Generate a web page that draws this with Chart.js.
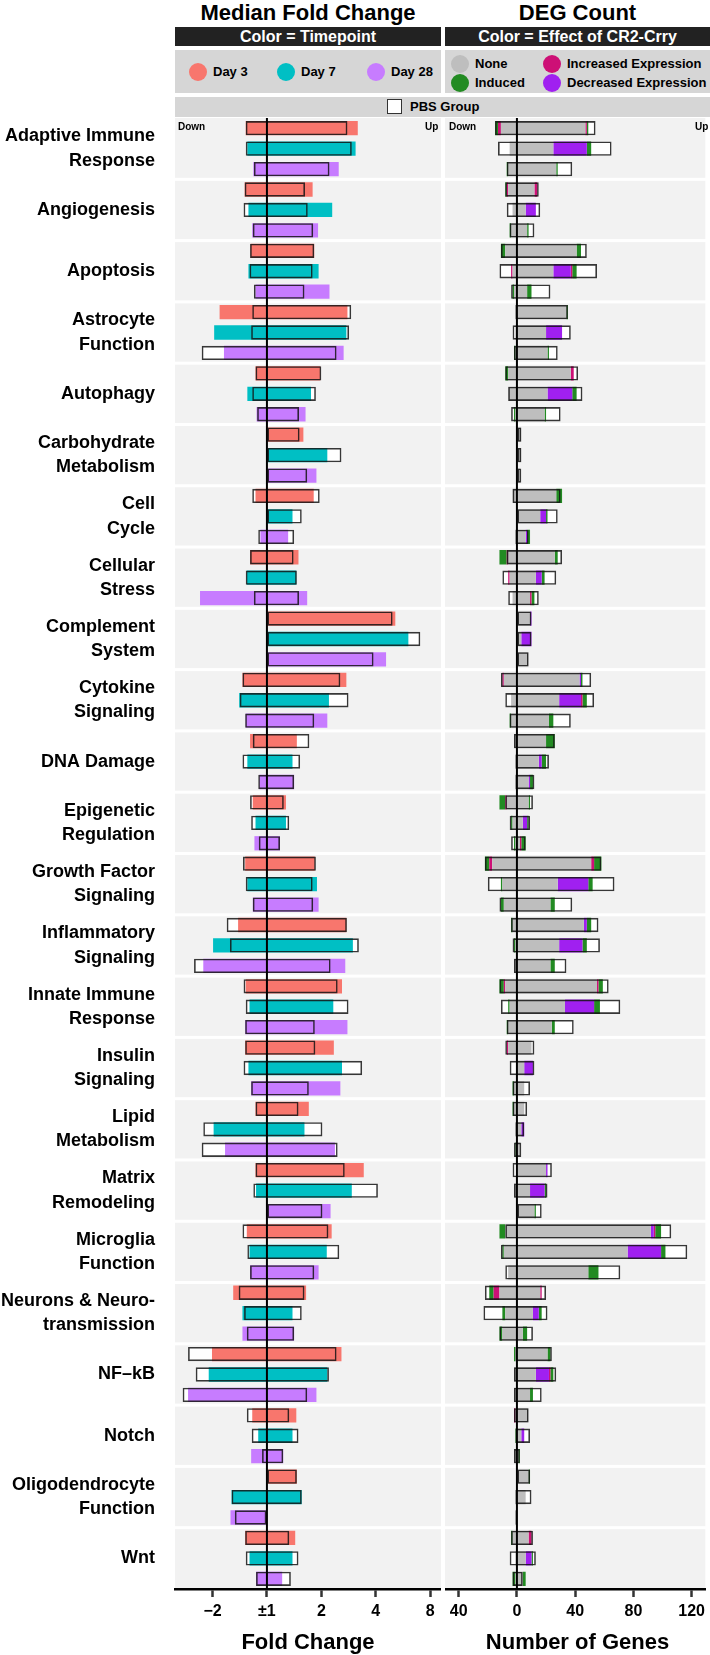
<!DOCTYPE html>
<html>
<head>
<meta charset="utf-8">
<script src="https://cdn.jsdelivr.net/npm/chart.js@4.4.1/dist/chart.umd.min.js"></script>
<style>
  body { margin: 0; background: #fff; }
  #page { position: relative; width: 710px; height: 1655px; overflow: hidden;
          font-family: "Liberation Sans", Arial, sans-serif; font-weight: bold; color: #000; }
  .abs { position: absolute; white-space: nowrap; }
  .title { top: 1px; height: 24px; line-height: 24px; font-size: 22px; text-align: center; }
  .strip { top: 27px; height: 19px; line-height: 19px; background: #222; color: #fff; font-size: 16px; text-align: center; }
  .legbox { top: 50px; height: 43px; background: #D6D6D6; }
  .dot { width: 18px; height: 18px; border-radius: 50%; }
  .leg { font-size: 13px; line-height: 18px; }
  .small { font-size: 10px; line-height: 12px; z-index: 2; }
  .axtitle { top: 1629px; height: 26px; line-height: 26px; font-size: 22px; text-align: center; }
  canvas { position: absolute; top: 0; }
</style>
</head>
<body>
<div id="page">
  <div class="abs title" style="left:175px;width:266px;">Median Fold Change</div>
  <div class="abs title" style="left:445px;width:265px;">DEG Count</div>

  <div class="abs strip" style="left:175px;width:266px;">Color = Timepoint</div>
  <div class="abs strip" style="left:445px;width:265px;">Color = Effect of CR2-Crry</div>

  <div class="abs legbox" style="left:175px;width:266px;"></div>
  <div class="abs legbox" style="left:445px;width:265px;"></div>
  <div id="legendLeft"></div>
  <div id="legendRight"></div>

  <div class="abs" style="left:175px;top:97px;width:535px;height:20px;background:#D6D6D6;"></div>
  <div class="abs" style="left:387px;top:99px;width:13px;height:13px;background:#fff;border:1.5px solid #333;"></div>
  <div class="abs leg" style="left:410px;top:97px;line-height:20px;">PBS Group</div>

  <canvas id="fcChart" width="441" height="1655" style="left:0;"></canvas>
  <canvas id="degChart" width="265" height="1655" style="left:445px;"></canvas>

  <div class="abs small" style="left:178px;top:121px;">Down</div>
  <div class="abs small" style="left:425px;top:121px;">Up</div>
  <div class="abs small" style="left:449px;top:121px;">Down</div>
  <div class="abs small" style="left:695px;top:121px;">Up</div>

  <div class="abs axtitle" style="left:175px;width:266px;">Fold Change</div>
  <div class="abs axtitle" style="left:445px;width:265px;">Number of Genes</div>
</div>

<script>
const categories = [
  ['Adaptive Immune', 'Response'], ['Angiogenesis'], ['Apoptosis'], ['Astrocyte', 'Function'],
  ['Autophagy'], ['Carbohydrate', 'Metabolism'], ['Cell', 'Cycle'], ['Cellular', 'Stress'],
  ['Complement', 'System'], ['Cytokine', 'Signaling'], ['DNA Damage'], ['Epigenetic', 'Regulation'],
  ['Growth Factor', 'Signaling'], ['Inflammatory', 'Signaling'], ['Innate Immune', 'Response'], ['Insulin', 'Signaling'],
  ['Lipid', 'Metabolism'], ['Matrix', 'Remodeling'], ['Microglia', 'Function'], ['Neurons & Neuro-', 'transmission'],
  ['NF\u2013kB'], ['Notch'], ['Oligodendrocyte', 'Function'], ['Wnt']
];
const timepoints = ['Day 3', 'Day 7', 'Day 28'];
const dayColors = ['#F8766D', '#00BFC4', '#C77CFF'];

// median log2 fold change, [Day 3, Day 7, Day 28] per category
const cr2FcDown = [
  [-0.39, -0.36, -0.25], [-0.41, -0.34, -0.27], [-0.30, -0.34, -0.21], [-0.87, -0.97, -0.79],
  [-0.21, -0.36, -0.19], [0, 0, 0], [-0.21, 0, -0.12], [-0.31, -0.37, -1.23],
  [0, 0, 0], [-0.45, -0.51, -0.39], [-0.31, -0.36, -0.14], [-0.26, -0.21, -0.23],
  [-0.40, -0.36, -0.26], [-0.53, -0.99, -1.17], [-0.39, -0.32, -0.40], [-0.40, -0.34, -0.29],
  [-0.21, -0.98, -0.77], [-0.21, -0.20, 0], [-0.37, -0.32, -0.31], [-0.62, -0.45, -0.45],
  [-1.01, -1.07, -1.45], [-0.27, -0.16, -0.29], [0, -0.65, -0.67], [-0.40, -0.32, -0.20]
];
const cr2FcUp = [
  [1.67, 1.63, 1.32], [0.84, 1.20, 0.94], [0.87, 0.95, 1.15], [1.48, 1.46, 1.41],
  [0.98, 0.81, 0.71], [0.67, 1.11, 0.91], [0.86, 0.47, 0.39], [0.58, 0.54, 0.74],
  [2.36, 2.60, 2.19], [1.46, 1.14, 1.11], [0.55, 0.47, 0.50], [0.35, 0.35, 0.24],
  [0.88, 0.92, 0.95], [1.46, 1.58, 1.44], [1.38, 1.22, 1.48], [1.23, 1.38, 1.35],
  [0.77, 0.69, 1.25], [1.78, 1.56, 1.17], [1.19, 1.10, 0.95], [0.72, 0.47, 0.50],
  [1.37, 1.11, 0.91], [0.54, 0.47, 0.30], [0.55, 0.64, 0], [0.52, 0.47, 0.28]
];
const pbsFcDown = [
  [-0.39, -0.39, -0.24], [-0.41, -0.43, -0.26], [-0.31, -0.32, -0.24], [-0.27, -0.29, -1.20],
  [-0.21, -0.27, -0.18], [0, 0, 0], [-0.27, 0, -0.16], [-0.31, -0.39, -0.24],
  [0, 0, 0], [-0.45, -0.50, -0.40], [-0.26, -0.45, -0.16], [-0.31, -0.29, -0.15],
  [-0.44, -0.39, -0.26], [-0.74, -0.68, -1.34], [-0.43, -0.39, -0.40], [-0.40, -0.43, -0.29],
  [-0.21, -1.17, -1.20], [-0.21, -0.25, 0], [-0.45, -0.36, -0.31], [-0.52, -0.42, -0.37],
  [-1.45, -1.31, -1.55], [-0.37, -0.28, -0.09], [0, -0.65, -0.59], [-0.40, -0.39, -0.20]
];
const pbsFcUp = [
  [1.48, 1.56, 1.15], [0.70, 0.75, 0.85], [0.87, 0.84, 0.69], [1.55, 1.51, 1.28],
  [1.00, 0.90, 0.59], [0.60, 1.37, 0.74], [0.97, 0.64, 0.50], [0.49, 0.55, 0.59],
  [2.31, 2.82, 1.96], [1.35, 1.50, 0.87], [0.78, 0.61, 0.50], [0.31, 0.41, 0.24],
  [0.90, 0.84, 0.85], [1.47, 1.69, 1.17], [1.30, 1.50, 0.88], [0.89, 1.75, 0.77],
  [0.58, 1.02, 1.30], [1.43, 2.04, 1.02], [1.13, 1.33, 0.87], [0.69, 0.64, 0.50],
  [1.28, 1.14, 0.74], [0.41, 0.58, 0.30], [0.55, 0.64, 0], [0.41, 0.58, 0.44]
];
const fcTickValues = [-1, 0, 1, 2, 3];
const fcTickLabels = ['\u22122', '\u00b11', '2', '4', '8'];

// DEG counts by effect of CR2-Crry, [Day 3, Day 7, Day 28] per category
const noneDown = [
  [11, 5, 6], [6, 3, 4], [8, 3, 2], [1, 1, 1], [6, 6, 1], [0, 0, 0], [3, 0, 1], [6, 5, 3],
  [0, 0, 0], [9, 4, 4], [2, 1, 1], [7, 3, 1], [17, 10, 9], [3, 1, 2], [8, 5, 6], [6, 0, 2],
  [2, 1, 0], [0, 2, 0], [8, 9, 6], [12, 8, 10], [1, 2, 2], [1, 0, 2], [0, 1, 1], [3, 1, 1]
];
const noneUp = [
  [47, 25, 27], [12, 6, 7], [41, 25, 7], [34, 20, 21], [37, 21, 19], [3, 3, 2], [27, 16, 6], [26, 13, 9],
  [9, 3, 8], [43, 29, 22], [20, 15, 8], [8, 4, 2], [51, 28, 23], [46, 29, 23], [55, 33, 24], [10, 5, 5],
  [5, 3, 2], [20, 9, 12], [92, 76, 49], [16, 11, 4], [21, 13, 9], [8, 3, 1], [8, 6, 0], [8, 6, 4]
];
const decreasedDown = [
  [0, 0, 0], [0, 0, 0], [0, 0, 0], [0, 0, 0], [0, 0, 0], [0, 0, 0], [0, 0, 0], [0, 0, 0],
  [0, 0, 0], [0, 0, 0], [0, 0, 0], [0, 0, 0], [0, 0, 0], [0, 0, 0], [0, 0, 0], [0, 0, 0],
  [0, 0, 0], [0, 0, 0], [0, 0, 0], [0, 0, 0], [0, 0, 0], [0, 0, 0], [0, 0, 0], [0, 0, 0]
];
const decreasedUp = [
  [0, 23, 0], [0, 7, 0], [0, 12, 0], [0, 11, 0], [0, 17, 0], [0, 0, 0], [0, 4, 1], [0, 4, 0],
  [1, 7, 0], [1, 15, 0], [0, 2, 1], [0, 3, 0], [0, 21, 0], [2, 16, 0], [0, 20, 0], [0, 6, 0],
  [0, 2, 0], [1, 10, 0], [2, 23, 0], [0, 4, 0], [0, 9, 0], [0, 2, 0], [0, 0, 0], [0, 4, 0]
];
const increasedDown = [
  [2, 0, 0], [1, 0, 0], [0, 1, 0], [0, 0, 0], [0, 0, 0], [0, 0, 0], [0, 0, 0], [1, 1, 0],
  [0, 0, 0], [1, 0, 0], [0, 0, 0], [1, 0, 0], [2, 0, 0], [0, 0, 0], [1, 0, 0], [1, 0, 0],
  [0, 0, 0], [0, 0, 0], [0, 0, 0], [4, 0, 0], [0, 0, 0], [1, 0, 0], [0, 0, 0], [0, 0, 0]
];
const increasedUp = [
  [1, 0, 0], [2, 0, 0], [0, 1, 0], [0, 0, 0], [2, 0, 0], [0, 0, 0], [0, 0, 0], [0, 0, 1],
  [0, 0, 0], [0, 1, 0], [0, 0, 0], [0, 0, 1], [2, 0, 0], [0, 0, 0], [1, 0, 0], [0, 0, 0],
  [0, 0, 0], [0, 0, 0], [1, 0, 0], [1, 0, 0], [0, 1, 0], [0, 0, 0], [0, 0, 0], [2, 0, 0]
];
const inducedDown = [
  [2, 0, 1], [1, 0, 1], [3, 0, 1], [0, 0, 1], [2, 0, 1], [0, 0, 0], [0, 0, 0], [5, 0, 0],
  [0, 0, 0], [0, 0, 1], [0, 0, 0], [4, 1, 1], [3, 1, 2], [1, 1, 0], [3, 1, 1], [0, 0, 1],
  [1, 0, 1], [0, 0, 0], [4, 1, 0], [3, 2, 2], [1, 0, 0], [0, 1, 0], [0, 0, 0], [1, 0, 2]
];
const inducedUp = [
  [1, 3, 1], [0, 0, 1], [3, 3, 3], [1, 0, 1], [0, 3, 1], [0, 0, 0], [4, 1, 2], [2, 2, 2],
  [0, 0, 0], [1, 3, 3], [6, 3, 2], [1, 1, 3], [5, 3, 3], [3, 3, 3], [3, 4, 2], [0, 0, 0],
  [0, 0, 0], [0, 1, 1], [4, 3, 7], [0, 2, 3], [2, 2, 2], [0, 0, 1], [1, 0, 0], [0, 1, 2]
];
const pbsGenesDown = [
  [15, 13, 7], [8, 7, 5], [11, 12, 4], [1, 3, 2], [8, 6, 4], [0, 0, 0], [3, 0, 1], [7, 10, 6],
  [0, 0, 0], [11, 8, 5], [2, 1, 1], [8, 5, 4], [22, 20, 12], [4, 3, 2], [12, 11, 7], [8, 5, 3],
  [3, 1, 2], [3, 2, 0], [8, 11, 8], [22, 23, 12], [1, 2, 2], [2, 1, 2], [0, 1, 1], [4, 5, 3]
];
const pbsGenesUp = [
  [54, 65, 38], [15, 16, 12], [48, 55, 23], [35, 37, 28], [42, 45, 30], [3, 3, 3], [30, 28, 8], [31, 27, 15],
  [10, 10, 8], [51, 53, 37], [26, 22, 12], [11, 9, 6], [58, 67, 38], [56, 57, 34], [63, 71, 39], [12, 12, 9],
  [7, 5, 3], [24, 21, 17], [106, 117, 71], [20, 21, 11], [24, 27, 17], [8, 9, 2], [9, 10, 0], [11, 13, 4]
];
const geneTickValues = [-40, 0, 40, 80, 120];
const geneTickLabels = ['40', '0', '40', '80', '120'];

const effects = [
  { name: 'None', color: '#BEBEBE', down: noneDown, up: noneUp },
  { name: 'Decreased Expression', color: '#A020F0', down: decreasedDown, up: decreasedUp },
  { name: 'Increased Expression', color: '#CD1076', down: increasedDown, up: increasedUp },
  { name: 'Induced', color: '#228B22', down: inducedDown, up: inducedUp }
];

// legends
const legendLeft = document.getElementById('legendLeft');
[[198, 'Day 3'], [286, 'Day 7'], [376, 'Day 28']].forEach(([x, name], i) => {
  legendLeft.innerHTML += `<div class="abs dot" style="left:${x - 9}px;top:63px;background:${dayColors[i]}"></div>` +
    `<div class="abs leg" style="left:${x + 15}px;top:63px;">${name}</div>`;
});
const legendRight = document.getElementById('legendRight');
[['None', 460, 55], ['Induced', 460, 74], ['Increased Expression', 552, 55], ['Decreased Expression', 552, 74]].forEach(([name, x, y]) => {
  const color = effects.find(e => e.name === name).color;
  legendRight.innerHTML += `<div class="abs dot" style="left:${x - 9}px;top:${y}px;background:${color}"></div>` +
    `<div class="abs leg" style="left:${x + 15}px;top:${y}px;">${name}</div>`;
});

const rowLabels = categories.flatMap(c => timepoints.map(t => c.join(' ') + ' ' + t));
const rowColors = categories.flatMap(() => dayColors);
const pairs = (down, up) => {
  const u = up.flat();
  return down.flat().map((d, i) => [d, u[i]]);
};
const outline = 'rgba(20,20,20,0.85)';

const bandBackground = {
  id: 'bandBackground',
  beforeDraw(chart) {
    const { ctx, chartArea: { left, right, top, bottom } } = chart;
    const n = categories.length;
    const bandH = (bottom - top) / n;
    ctx.save();
    ctx.fillStyle = '#F2F2F2';
    for (let b = 0; b < n; b++) {
      const y0 = top + b * bandH + (b > 0 ? 1.5 : 0);
      const y1 = top + (b + 1) * bandH - (b < n - 1 ? 1.5 : 0);
      ctx.fillRect(left, y0, right - left, y1 - y0);
    }
    ctx.restore();
  }
};

const centerLine = {
  id: 'centerLine',
  afterDatasetsDraw(chart) {
    const { ctx, chartArea: { top, bottom } } = chart;
    const x = chart.scales.x.getPixelForValue(0);
    ctx.save();
    ctx.strokeStyle = '#000';
    ctx.lineWidth = 2;
    ctx.beginPath();
    ctx.moveTo(x, top);
    ctx.lineTo(x, bottom);
    ctx.stroke();
    ctx.restore();
  }
};

function xAxis(min, max, values, labels, stacked) {
  return {
    type: 'linear', min, max, stacked,
    afterBuildTicks: scale => { scale.ticks = values.map(v => ({ value: v })); },
    afterFit: scale => { scale.height = 66; },
    border: { display: true, color: '#000', width: 2.5 },
    grid: { drawOnChartArea: false, drawTicks: true, tickLength: 8, tickWidth: 2.5, tickColor: '#333' },
    ticks: {
      padding: 5, color: '#000', maxRotation: 0,
      font: { family: '"Liberation Sans", Arial, sans-serif', size: 16, weight: 'bold' },
      callback: (v, i) => labels[i]
    }
  };
}

const common = {
  indexAxis: 'y',
  responsive: false,
  animation: false,
  layout: { padding: { top: 118, left: 0, right: 0, bottom: 0 } },
  plugins: { legend: { display: false }, tooltip: { enabled: false } }
};

new Chart(document.getElementById('fcChart'), {
  type: 'bar',
  data: {
    labels: rowLabels,
    datasets: [
      { label: 'PBS fill', data: pairs(pbsFcDown, pbsFcUp), backgroundColor: '#fff', order: 2, grouped: false },
      { label: 'CR2-Crry', data: pairs(cr2FcDown, cr2FcUp), backgroundColor: rowColors, order: 1, grouped: false },
      { label: 'PBS Group', data: pairs(pbsFcDown, pbsFcUp), backgroundColor: 'rgba(0,0,0,0)',
        borderColor: outline, borderWidth: 1.6, borderSkipped: false, order: 0, grouped: false }
    ]
  },
  options: {
    ...common,
    datasets: { bar: { barPercentage: 0.7, categoryPercentage: 1 } },
    scales: {
      x: xAxis(-1.69, 3.2, fcTickValues, fcTickLabels, false),
      y: {
        afterFit: scale => { scale.width = 175; },
        border: { display: false },
        grid: { display: false },
        ticks: {
          autoSkip: false, padding: 12, color: '#000',
          font: { family: '"Liberation Sans", Arial, sans-serif', size: 18, weight: 'bold', lineHeight: 1.35 },
          callback: (v, i) => (i % 3 === 1 ? categories[(i - 1) / 3] : '')
        }
      }
    }
  },
  plugins: [bandBackground, centerLine]
});

const degDatasets = [
  { label: 'PBS fill', data: pairs(pbsGenesDown.map(r => r.map(v => -v)), pbsGenesUp),
    backgroundColor: '#fff', stack: 'pbsFill', order: 2, grouped: false }
];
effects.forEach(e => {
  degDatasets.push({ label: e.name + ' up', data: e.up.flat(), backgroundColor: e.color, stack: 'deg', order: 1, grouped: false });
  degDatasets.push({ label: e.name + ' down', data: e.down.flat().map(v => -v), backgroundColor: e.color, stack: 'deg', order: 1, grouped: false });
});
degDatasets.push({ label: 'PBS Group', data: pairs(pbsGenesDown.map(r => r.map(v => -v)), pbsGenesUp),
  backgroundColor: 'rgba(0,0,0,0)', borderColor: outline, borderWidth: 1.6, borderSkipped: false,
  stack: 'pbsLine', order: 0, grouped: false });

new Chart(document.getElementById('degChart'), {
  type: 'bar',
  data: { labels: rowLabels, datasets: degDatasets },
  options: {
    ...common,
    datasets: { bar: { barPercentage: 0.7, categoryPercentage: 1 } },
    scales: {
      x: xAxis(-49.4, 129.4, geneTickValues, geneTickLabels, true),
      y: { display: false }
    }
  },
  plugins: [bandBackground, centerLine]
});
</script>
</body>
</html>
